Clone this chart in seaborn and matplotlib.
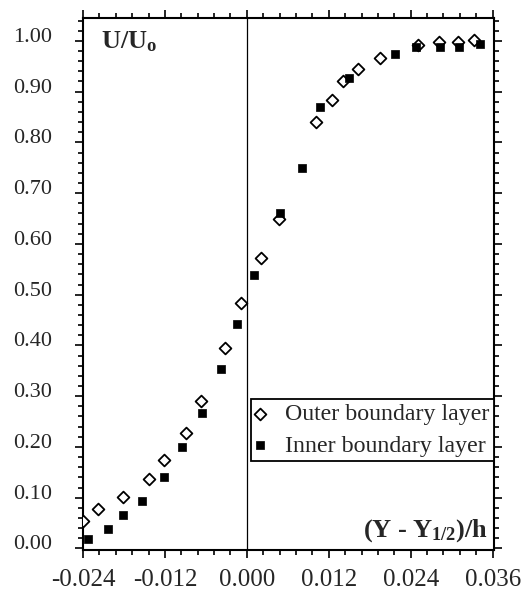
import numpy as np
import pandas as pd
import matplotlib
matplotlib.use("Agg")
import matplotlib.pyplot as plt
import seaborn as sns
from matplotlib.ticker import MultipleLocator
from matplotlib.transforms import ScaledTranslation

# ---- data ----
outer_x = [-0.0240, -0.0218, -0.0182, -0.0143, -0.0121, -0.0089, -0.0067, -0.0032,
           -0.0008, 0.0020, 0.0047, 0.0102, 0.0125, 0.0141, 0.0163, 0.0195,
           0.0250, 0.0281, 0.0310, 0.0332]
outer_y = [0.054, 0.078, 0.101, 0.137, 0.175, 0.227, 0.291, 0.395,
           0.483, 0.573, 0.650, 0.841, 0.884, 0.920, 0.945, 0.967,
           0.991, 0.997, 0.997, 1.001]
inner_x = [-0.0232, -0.0204, -0.0181, -0.0154, -0.0122, -0.0095, -0.0065, -0.0038,
           -0.0014, 0.0010, 0.0048, 0.0081, 0.0107, 0.0150, 0.0217, 0.0248,
           0.0283, 0.0311, 0.0341]
inner_y = [0.018, 0.039, 0.066, 0.093, 0.141, 0.199, 0.267, 0.354,
           0.443, 0.538, 0.660, 0.750, 0.870, 0.926, 0.974, 0.988,
           0.988, 0.988, 0.993]
x_ticks = [-0.024, -0.012, 0.000, 0.012, 0.024, 0.036]
y_ticks = [0.00, 0.10, 0.20, 0.30, 0.40, 0.50, 0.60, 0.70, 0.80, 0.90, 1.00]
outer_label = "Outer boundary layer"
inner_label = "Inner boundary layer"
y_title = r"$\mathbf{U/U_o}$"
x_title = "$\\mathbf{(Y\\ \u2010\\ Y_{1/2})/h}$"

sns.set_style("ticks")
plt.rcParams["font.family"] = ["Liberation Serif", "DejaVu Serif"]
plt.rcParams["mathtext.fontset"] = "custom"
plt.rcParams["mathtext.rm"] = "Liberation Serif"
plt.rcParams["mathtext.bf"] = "Liberation Serif:bold"
plt.rcParams["mathtext.it"] = "Liberation Serif:italic"

fig = plt.figure(figsize=(5.25, 6.03), dpi=100)
ax = fig.add_axes([83/525, 1 - 550/603, (494 - 83)/525, (550 - 18)/603])

df_o = pd.DataFrame({"x": outer_x, "y": outer_y})
df_i = pd.DataFrame({"x": inner_x, "y": inner_y})

ax.axvline(0.0, color="black", lw=0.9, zorder=1)

sns.scatterplot(data=df_o, x="x", y="y", ax=ax, marker="D", s=36,
                facecolor="white", edgecolor="black", linewidth=1.3,
                label=outer_label, zorder=3)
sns.scatterplot(data=df_i, x="x", y="y", ax=ax, marker="s", s=40,
                color="black", edgecolor="black", linewidth=0.5,
                label=inner_label, zorder=4)

ax.set_xlim(-0.024, 0.0362)
ax.set_ylim(-0.003, 1.045)
ax.set_xticks(x_ticks)
ax.set_xticklabels([f"{v:.3f}".replace("-0.000", "0.000") for v in x_ticks])
ax.set_yticks(y_ticks)
ax.set_yticklabels([f"{v:.2f}" for v in y_ticks])
ax.xaxis.set_minor_locator(MultipleLocator(0.0024))
ax.yaxis.set_minor_locator(MultipleLocator(0.02))
ax.set_xlabel("")
ax.set_ylabel("")

for s in ax.spines.values():
    s.set_visible(True)
    s.set_linewidth(1.5)
    s.set_color("black")

ax.tick_params(which="both", direction="out", top=True, right=True,
               color="black", width=1.2)
ax.tick_params(which="major", length=6)
ax.tick_params(which="minor", length=3.5)
ax.tick_params(axis="x", which="major", labelsize=18, pad=8)
ax.tick_params(axis="y", which="major", labelsize=16, pad=16)

# labels in the reference sit a few pixels above their ticks
off = ScaledTranslation(0, 6/100, fig.dpi_scale_trans)
for lab in ax.get_yticklabels():
    lab.set_transform(lab.get_transform() + off)

ax.text(0.045, 0.978, y_title, transform=ax.transAxes, fontsize=19,
        ha="left", va="top")
ax.text(0.985, 0.012, x_title, transform=ax.transAxes, fontsize=19,
        ha="right", va="bottom")

leg = ax.legend(loc="upper right", bbox_to_anchor=(1.0, 0.284),
                frameon=True, fancybox=False, fontsize=17.2,
                handlelength=0.3, handletextpad=0.9, borderpad=0.2,
                borderaxespad=0.0, labelspacing=0.4, markerscale=1.0)
leg.get_frame().set_edgecolor("black")
leg.get_frame().set_linewidth(1.3)
leg.get_frame().set_alpha(1.0)

fig.savefig("out.png", dpi=100)
